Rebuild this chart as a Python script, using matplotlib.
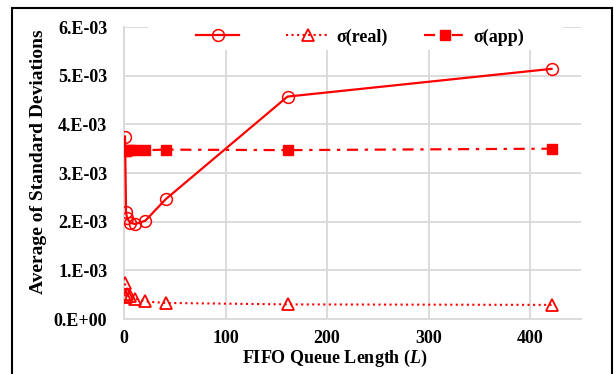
import matplotlib
matplotlib.use("Agg")
import matplotlib.pyplot as plt
from matplotlib.patches import Rectangle

L = [1, 2, 3, 6, 11, 21, 41, 161, 421]
sigma_circ = [3.75e-3, 2.20e-3, 2.07e-3, 1.98e-3, 1.95e-3, 2.02e-3, 2.46e-3, 4.57e-3, 5.14e-3]
sigma_real = [0.73e-3, 0.45e-3, 0.52e-3, 0.47e-3, 0.42e-3, 0.36e-3, 0.33e-3, 0.30e-3, 0.29e-3]
sigma_app = [3.45e-3, 3.46e-3, 3.47e-3, 3.48e-3, 3.48e-3, 3.47e-3, 3.48e-3, 3.47e-3, 3.50e-3]

x_ticks = [0, 100, 200, 300, 400]
y_ticks = [0, 1e-3, 2e-3, 3e-3, 4e-3, 5e-3, 6e-3]
y_tick_labels = ['0.E+00', '1.E-03', '2.E-03', '3.E-03', '4.E-03', '5.E-03', '6.E-03']
labels = [' ', 'σ(real)', 'σ(app)']

plt.rcParams['font.family'] = ['Liberation Serif', 'DejaVu Serif']
plt.rcParams['font.weight'] = 'bold'
plt.rcParams['mathtext.fontset'] = 'custom'
plt.rcParams['mathtext.it'] = 'Liberation Serif:italic:bold'
plt.rcParams['mathtext.rm'] = 'Liberation Serif:bold'

fig = plt.figure(figsize=(6.14, 3.74), dpi=100)
ax = fig.add_axes([124/614, 1-319/374, 457/614, 292/374])

red = '#FF0000'
h1, = ax.plot(L, sigma_circ, '-', color=red, lw=1.6, marker='o', ms=8.5,
              mfc='none', mec=red, mew=1.1, zorder=4)
h2, = ax.plot(L, sigma_real, ':', color=red, lw=1.5, marker='^', ms=8.5,
              mfc='none', mec=red, mew=1.3, zorder=4)
h3, = ax.plot(L, sigma_app, color=red, lw=1.6, marker='s', ms=6.5,
              mfc=red, mec=red, dashes=(5, 3, 1.5, 3), zorder=4)

ax.set_xlim(0, 450)
ax.set_ylim(0, 6e-3)
ax.set_xticks(x_ticks)
ax.set_yticks(y_ticks)
ax.set_yticklabels(y_tick_labels)
ax.tick_params(length=0, labelsize=13, pad=12)
ax.tick_params(axis='x', pad=8)
for lab in ax.get_xticklabels() + ax.get_yticklabels():
    lab.set_fontweight('bold')

ax.grid(True, color='#d9d9d9', lw=1.3, zorder=0)
ax.set_axisbelow(True)
for s in ['top', 'right']:
    ax.spines[s].set_visible(False)
for s in ['left', 'bottom']:
    ax.spines[s].set_color('#d9d9d9')
    ax.spines[s].set_linewidth(1.3)

ax.set_ylabel('Average of Standard Deviations', fontsize=14, fontweight='bold')
ax.yaxis.set_label_coords(-(124-47)/457, (319-162)/292)
ax.set_xlabel('FIFO Queue Length ($L$)', fontsize=13, fontweight='bold')
ax.xaxis.set_label_coords((335-124)/457, -(348-319)/292)

# white legend background covering gridlines
ax.add_patch(Rectangle((24/457, (319-50)/292), (563-148)/457, 0.1,
                       transform=ax.transAxes, facecolor='white', edgecolor='none',
                       zorder=2, clip_on=False))
leg = ax.legend([h1, h2, h3], labels, loc='center', bbox_to_anchor=((360-124)/457, 0.966),
                ncol=3, frameon=False, handlelength=2.4, handletextpad=0.35,
                columnspacing=2.0, prop={'weight': 'bold', 'size': 13})
leg.set_zorder(5)

# figure border
fig.add_artist(Rectangle((12/614, -0.05), (612-12)/614, 1.05 - 8/374,
                         transform=fig.transFigure, facecolor='none',
                         edgecolor='black', lw=1.5))

fig.savefig('out.png', dpi=100)
